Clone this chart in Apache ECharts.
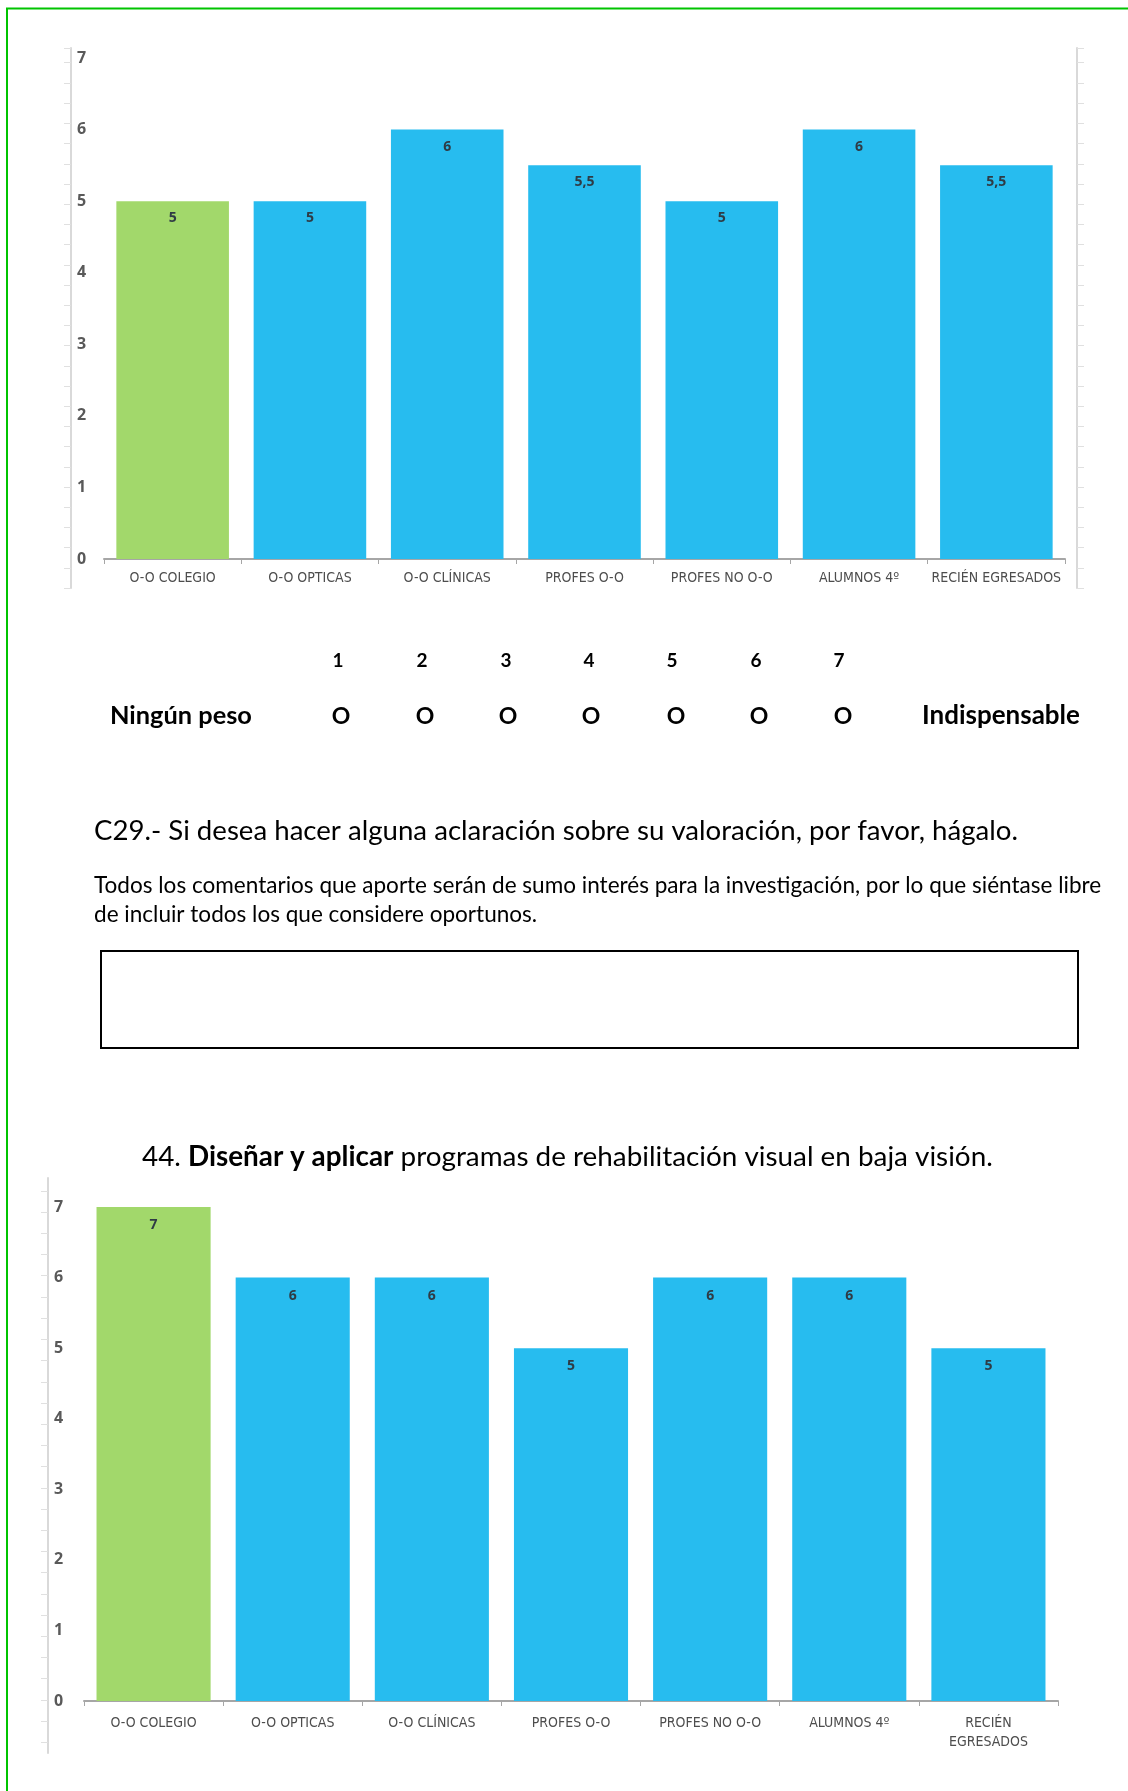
<!DOCTYPE html>
<html>
<head>
<meta charset="utf-8">
<title>Valoración</title>
<script src="https://cdn.jsdelivr.net/npm/echarts@6/dist/echarts.min.js"></script>
<style>
  html, body { margin: 0; padding: 0; background: #fff; }
</style>
</head>
<body>
<div id="main" style="width:1128px;height:1791px;"></div>
<script type="text/javascript">
  // datos de los dos gráficos
  var categories1 = ['O-O COLEGIO', 'O-O OPTICAS', 'O-O CLÍNICAS', 'PROFES O-O', 'PROFES NO O-O', 'ALUMNOS 4º', 'RECIÉN EGRESADOS'];
  var values1 = [5, 5, 6, 5.5, 5, 6, 5.5];
  var categories2 = ['O-O COLEGIO', 'O-O OPTICAS', 'O-O CLÍNICAS', 'PROFES O-O', 'PROFES NO O-O', 'ALUMNOS 4º', 'RECIÉN\nEGRESADOS'];
  var values2 = [7, 6, 6, 5, 6, 6, 5];
  var scalePoints = ['1', '2', '3', '4', '5', '6', '7'];

  var GREEN = '#a2d86b';
  var BLUE = '#27bcef';
  var DOC_FONT = "Lato, 'Open Sans', sans-serif";
  var CAT_FONT = "'Liberation Sans Narrow', 'DejaVu Sans Condensed', 'Liberation Sans', sans-serif";

  var ctx = document.createElement('canvas').getContext('2d');
  function fitSize(parts, width) {
    // parts: [[texto, peso], ...]
    var w = 0;
    parts.forEach(function (p) {
      ctx.font = p[1] + ' 100px ' + DOC_FONT;
      w += ctx.measureText(p[0]).width;
    });
    return 100 * width / w;
  }

  function barData(values) {
    return values.map(function (v, i) {
      return { value: v, itemStyle: { color: i === 0 ? GREEN : BLUE } };
    });
  }

  function fmt(p) { return String(p.value).replace('.', ','); }

  function catAxis(grid, data, margin, lineHeight) {
    return {
      type: 'category', gridIndex: grid, data: data,
      axisLine: { lineStyle: { color: '#a6a6a6', width: 2 } },
      axisTick: { show: true, length: 5, lineStyle: { color: '#a6a6a6' } },
      axisLabel: { interval: 0, margin: margin, color: '#4d4d4d', fontFamily: CAT_FONT, fontSize: 14, lineHeight: lineHeight }
    };
  }
  function labelAxis(grid, offset) {
    return {
      type: 'value', gridIndex: grid, min: 0, max: 7, interval: 1, offset: offset,
      axisLine: { show: false }, axisTick: { show: false }, splitLine: { show: false },
      axisLabel: { inside: true, margin: 6, color: '#595959', fontWeight: 'bold', fontSize: 16, fontFamily: "'Open Sans', sans-serif" }
    };
  }
  function frameAxis(grid, pos, max, inverse, tickVals) {
    var a = {
      type: 'value', gridIndex: grid, position: pos, inverse: inverse, min: 0, max: max, interval: 1,
      axisLine: { show: true, lineStyle: { color: '#d9d9d9', width: 2 } },
      axisTick: { show: true, length: 7, lineStyle: { color: '#e0e0e0' } },
      axisLabel: { show: false }, splitLine: { show: false }
    };
    if (tickVals) a.axisTick.customValues = tickVals;
    return a;
  }
  function hiddenX(grid) {
    return { type: 'value', gridIndex: grid, show: false, min: 0, max: 1 };
  }

  // marcas del marco del segundo gráfico (desplazadas respecto al borde superior)
  var frame2Ticks = [];
  for (var k = 0; k < 27; k++) frame2Ticks.push(0.61 + k);

  // textos del documento
  var t1 = 'C29.- Si desea hacer alguna aclaración sobre su valoración, por favor, hágalo.';
  var t2a = 'Todos los comentarios que aporte serán de sumo interés para la investigación, por lo que siéntase libre';
  var t2b = 'de incluir todos los que considere oportunos.';
  var h1 = '44. ', h2 = 'Diseñar y aplicar', h3 = ' programas de rehabilitación visual en baja visión.';

  var s1 = fitSize([[t1, 'normal']], 924);
  var s2 = fitSize([[t2a, 'normal']], 1008);
  var s3 = fitSize([[h1, 'normal'], [h2, 'bold'], [h3, 'normal']], 851);
  var sL = fitSize([['Ningún peso', 'bold']], 142);
  var sR = fitSize([['Indispensable', 'bold']], 158);

  var numX = [338, 422, 506, 589, 672, 756, 839];
  var oX = [341, 425, 508, 591, 676, 759, 843];

  var graphic = [
    { type: 'polyline', shape: { points: [[7, 1791], [7, 8.5], [1128, 8.5]] }, style: { stroke: '#00c400', lineWidth: 2, fill: null } },
    { type: 'rect', shape: { x: 101, y: 951, width: 977, height: 97 }, style: { fill: null, stroke: '#000', lineWidth: 2 } },
    { type: 'text', x: 110, y: 716, style: { text: 'Ningún peso', font: 'bold ' + sL + 'px ' + DOC_FONT, fill: '#000', align: 'left', verticalAlign: 'middle' } },
    { type: 'text', x: 922, y: 716, style: { text: 'Indispensable', font: 'bold ' + sR + 'px ' + DOC_FONT, fill: '#000', align: 'left', verticalAlign: 'middle' } },
    { type: 'text', x: 94, y: 831, style: { text: t1, font: s1 + 'px ' + DOC_FONT, fill: '#000', align: 'left', verticalAlign: 'middle' } },
    { type: 'text', x: 94, y: 886, style: { text: t2a, font: s2 + 'px ' + DOC_FONT, fill: '#000', align: 'left', verticalAlign: 'middle' } },
    { type: 'text', x: 94, y: 915, style: { text: t2b, font: s2 + 'px ' + DOC_FONT, fill: '#000', align: 'left', verticalAlign: 'middle' } },
    { type: 'text', x: 142, y: 1157, style: {
        text: '{n|' + h1 + '}{b|' + h2 + '}{n|' + h3 + '}',
        align: 'left', verticalAlign: 'middle',
        rich: {
          n: { fontFamily: DOC_FONT, fontSize: s3, fontWeight: 'normal', fill: '#000' },
          b: { fontFamily: DOC_FONT, fontSize: s3, fontWeight: 'bold', fill: '#000' }
        }
      } }
  ];
  scalePoints.forEach(function (p, i) {
    graphic.push({ type: 'text', x: numX[i], y: 661, style: { text: p, font: 'bold 19px ' + DOC_FONT, fill: '#000', align: 'center', verticalAlign: 'middle' } });
    graphic.push({ type: 'text', x: oX[i], y: 717, style: { text: 'O', font: 'bold 23px ' + DOC_FONT, fill: '#000', align: 'center', verticalAlign: 'middle' } });
  });

  var myChart = echarts.init(document.getElementById('main'), null, { renderer: 'canvas' });

  var option = {
    backgroundColor: '#fff',
    animation: false,
    grid: [
      { left: 104, right: 63, top: 58, bottom: 1232 },   // barras 1
      { left: 71, right: 51, top: 48, bottom: 1203 },    // marco 1
      { left: 84, right: 70, top: 1207, bottom: 90 },    // barras 2
      { left: 48, right: 70, top: 1178, bottom: 38 }     // marco 2
    ],
    xAxis: [
      catAxis(0, categories1, 11, 16),
      hiddenX(1),
      catAxis(2, categories2, 13, 19),
      hiddenX(3)
    ],
    yAxis: [
      labelAxis(0, 33),
      frameAxis(1, 'left', 26.73, false),
      frameAxis(1, 'right', 26.73, false),
      labelAxis(2, 36),
      frameAxis(3, 'left', 27.12, true, frame2Ticks)
    ],
    series: [
      {
        type: 'bar', xAxisIndex: 0, yAxisIndex: 0, data: barData(values1), barCategoryGap: '18%',
        label: { show: true, position: 'insideTop', distance: 10, formatter: fmt, color: '#2f3b45', fontWeight: 'bold', fontSize: 14, fontFamily: "'Open Sans', sans-serif" }
      },
      {
        type: 'bar', xAxisIndex: 2, yAxisIndex: 3, data: barData(values2), barCategoryGap: '18%',
        label: { show: true, position: 'insideTop', distance: 11, formatter: fmt, color: '#2f3b45', fontWeight: 'bold', fontSize: 14, fontFamily: "'Open Sans', sans-serif" }
      }
    ],
    graphic: graphic
  };
  myChart.setOption(option);
</script>
</body>
</html>
